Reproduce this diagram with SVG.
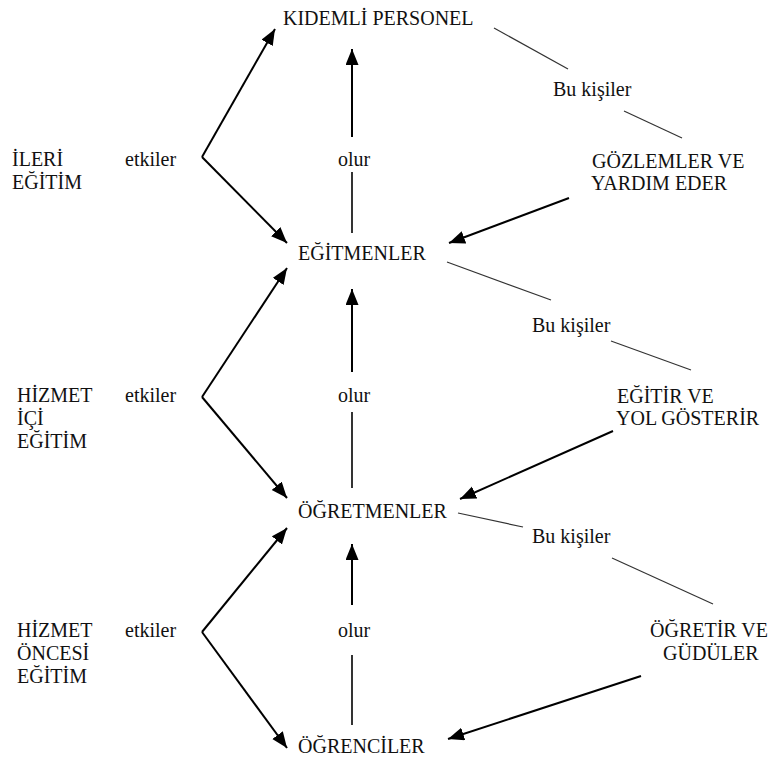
<svg xmlns="http://www.w3.org/2000/svg" width="768" height="760" viewBox="0 0 768 760">
<defs>
<style>
.t{font-family:"Liberation Serif","DejaVu Serif","Times New Roman",serif;font-size:20px;fill:#111}
.arr{stroke:#000;stroke-width:2;fill:none;marker-end:url(#ah)}
.thin{stroke:#333;stroke-width:1.2;fill:none}
.v{stroke:#000;stroke-width:1.6;fill:none}
</style>
<marker id="ah" markerUnits="userSpaceOnUse" markerWidth="18" markerHeight="14" refX="16" refY="6.5" orient="auto">
<path d="M0,0 L16,6.5 L0,13 Z" fill="#000"/>
</marker>
</defs>
<rect width="768" height="760" fill="#fff"/>
<g id="connectors">
<polyline class="arr" points="202,157 275,29"/>
<polyline class="arr" points="202,157 287,243"/>
<polyline class="arr" points="202,397 287,268"/>
<polyline class="arr" points="202,397 287,498"/>
<polyline class="arr" points="202,632 287,528"/>
<polyline class="arr" points="202,632 287,748"/>
<line class="arr" x1="352" y1="137" x2="352" y2="49"/>
<line class="v" x1="352" y1="172" x2="352" y2="233"/>
<line class="arr" x1="352" y1="372" x2="352" y2="289"/>
<line class="v" x1="352" y1="412" x2="352" y2="488"/>
<line class="arr" x1="352" y1="605" x2="352" y2="544"/>
<line class="v" x1="352" y1="655" x2="352" y2="725"/>
<line class="thin" x1="494" y1="28" x2="568" y2="69"/>
<line class="thin" x1="624" y1="111" x2="682" y2="138"/>
<line class="arr" x1="569" y1="198" x2="449" y2="243"/>
<line class="thin" x1="447" y1="262" x2="551" y2="300"/>
<line class="thin" x1="611" y1="341" x2="691" y2="370"/>
<line class="arr" x1="613" y1="431" x2="460" y2="499"/>
<line class="thin" x1="458" y1="513" x2="523" y2="527"/>
<line class="thin" x1="612" y1="558" x2="713" y2="604"/>
<line class="arr" x1="641" y1="676" x2="448" y2="739"/>
</g>
<g font-family="Liberation Serif, DejaVu Serif, serif" font-size="20">
<g id="kidemli"><text class="t" x="283" y="25">KIDEMLİ PERSONEL</text></g>
<g id="egitmenler"><text class="t" x="298" y="260">EĞİTMENLER</text></g>
<g id="ogretmenler"><text class="t" x="298" y="518">ÖĞRETMENLER</text></g>
<g id="ogrenciler"><text class="t" x="298" y="753">ÖĞRENCİLER</text></g>
<g id="ileri"><text class="t" x="12" y="166">İLERİ</text><text class="t" x="12" y="189">EĞİTİM</text></g>
<g id="hizmetici"><text class="t" x="17" y="402">HİZMET</text><text class="t" x="17" y="425">İÇİ</text><text class="t" x="17" y="448">EĞİTİM</text></g>
<g id="hizmetoncesi"><text class="t" x="17" y="637">HİZMET</text><text class="t" x="17" y="660">ÖNCESİ</text><text class="t" x="17" y="683">EĞİTİM</text></g>
<g id="labels">
<text class="t" x="125" y="166">etkiler</text>
<text class="t" x="125" y="402">etkiler</text>
<text class="t" x="125" y="637">etkiler</text>
<text class="t" x="338" y="166">olur</text>
<text class="t" x="338" y="402">olur</text>
<text class="t" x="338" y="637">olur</text>
<text class="t" x="553" y="96">Bu kişiler</text>
<text class="t" x="532" y="332">Bu kişiler</text>
<text class="t" x="532" y="543">Bu kişiler</text>
</g>
<g id="gozlemler"><text class="t" x="592" y="168">GÖZLEMLER VE</text><text class="t" x="591" y="190">YARDIM EDER</text></g>
<g id="egitir"><text class="t" x="617" y="403">EĞİTİR VE</text><text class="t" x="616" y="425">YOL GÖSTERİR</text></g>
<g id="ogretir"><text class="t" x="650" y="637">ÖĞRETİR VE</text><text class="t" x="663" y="660">GÜDÜLER</text></g>
</g>
</svg>
